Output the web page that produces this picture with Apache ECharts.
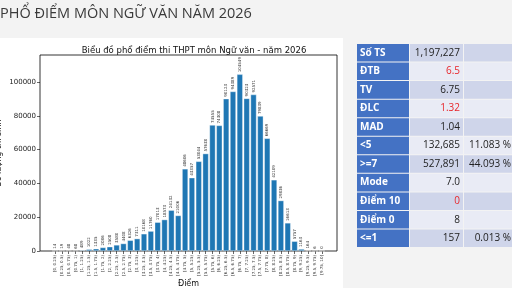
<!DOCTYPE html>
<html>
<head>
<meta charset="utf-8">
<script src="https://cdn.jsdelivr.net/npm/echarts@6/dist/echarts.min.js"></script>
<style>
  html, body { margin: 0; padding: 0; background: #f3f3f3; }
  #main { width: 512px; height: 288px; }
</style>
</head>
<body>
<div id="main"></div>
<script>
// khoảng điểm (trục x)
const scoreBins = [
  '[0, 0.25)', '[0.25, 0.5)', '[0.5, 0.75)', '[0.75, 1)',
  '[1, 1.25)', '[1.25, 1.5)', '[1.5, 1.75)', '[1.75, 2)',
  '[2, 2.25)', '[2.25, 2.5)', '[2.5, 2.75)', '[2.75, 3)',
  '[3, 3.25)', '[3.25, 3.5)', '[3.5, 3.75)', '[3.75, 4)',
  '[4, 4.25)', '[4.25, 4.5)', '[4.5, 4.75)', '[4.75, 5)',
  '[5, 5.25)', '[5.25, 5.5)', '[5.5, 5.75)', '[5.75, 6)',
  '[6, 6.25)', '[6.25, 6.5)', '[6.5, 6.75)', '[6.75, 7)',
  '[7, 7.25)', '[7.25, 7.5)', '[7.5, 7.75)', '[7.75, 8)',
  '[8, 8.25)', '[8.25, 8.5)', '[8.5, 8.75)', '[8.75, 9)',
  '[9, 9.25)', '[9.25, 9.5)', '[9.5, 9.75)', '[9.75, 10]'
];
// số thí sinh mỗi khoảng
const binCounts = [
  14, 19, 48, 68,
  489, 1022, 1335, 2086,
  2508, 3580, 4408, 6326,
  7311, 10168, 11760, 17013,
  18573, 24132, 21006, 48606,
  43357, 53044, 57638, 74555,
  74308, 90123, 94389, 104549,
  90323, 92571, 79839, 66669,
  42109, 29836, 16613, 5757,
  1163, 164, 6, 0
];
const yMax = 116000;
const yStep = 20000;

// bảng thống kê bên phải
const statNames = ['Số TS', 'ĐTB', 'TV', 'ĐLC', 'MAD', '<5', '>=7', 'Mode', 'Điểm 10', 'Điểm 0', '<=1'];
const statValues = ['1,197,227', '6.5', '6.75', '1.32', '1.04', '132,685', '527,891', '7.0', '0', '8', '157'];
const statPercents = ['', '', '', '', '', '11.083 %', '44.093 %', '', '', '', '0.013 %'];
const statRed = [false, true, false, true, false, false, false, false, true, false, false];

// vẽ bảng bằng graphic
const tableEls = [];
const tx = 357, ty = 44, rowH = 18.55;
const colW = [53, 54, 52];
statNames.forEach((name, i) => {
  const y = ty + i * rowH;
  const band = i % 2 === 0 ? '#cfd5ea' : '#e9ebf5';
  tableEls.push({ type: 'rect', shape: { x: tx, y: y, width: colW[0] - 1, height: rowH - 1 }, style: { fill: '#4472c4' } });
  tableEls.push({ type: 'rect', shape: { x: tx + colW[0], y: y, width: colW[1] - 1, height: rowH - 1 }, style: { fill: band } });
  tableEls.push({ type: 'rect', shape: { x: tx + colW[0] + colW[1], y: y, width: colW[2], height: rowH - 1 }, style: { fill: band } });
  tableEls.push({ type: 'text', x: tx + 3, y: y + rowH / 2 - 0.5,
    style: { text: name, fill: '#fff', font: 'bold 10px "Open Sans"', verticalAlign: 'middle', align: 'left' } });
  tableEls.push({ type: 'text', x: tx + colW[0] + colW[1] - 4, y: y + rowH / 2 - 0.5,
    style: { text: statValues[i], fill: statRed[i] ? '#e8262b' : '#222', font: '10px "Open Sans"', verticalAlign: 'middle', align: 'right' } });
  if (statPercents[i]) {
    tableEls.push({ type: 'text', x: 511, y: y + rowH / 2 - 0.5,
      style: { text: statPercents[i], fill: '#222', font: '10px "Open Sans"', verticalAlign: 'middle', align: 'right' } });
  }
});

const option = {
  backgroundColor: '#f3f3f3',
  animation: false,
  title: {
    text: 'Biểu đồ phổ điểm thi THPT môn Ngữ văn - năm 2026',
    left: 189,
    textAlign: 'center',
    top: 41,
    textStyle: { fontFamily: 'DejaVu Sans', fontSize: 8.5, fontWeight: 'normal', color: '#111' }
  },
  graphic: {
    elements: [
      { type: 'rect', z: -10, shape: { x: 0, y: 38, width: 343, height: 250 }, style: { fill: '#ffffff' } },
      { type: 'text', x: 0, y: 6,
        style: { text: 'PHỔ ĐIỂM MÔN NGỮ VĂN NĂM 2026', fill: '#3a3a3a', font: '14.5px "Open Sans"' } }
    ].concat(tableEls)
  },
  grid: [
    { left: 40, right: 175, top: 55, bottom: 37, show: true, borderColor: '#000', borderWidth: 0.8,
      backgroundColor: 'transparent', containLabel: false, outerBoundsMode: 'none' },
    { left: 51.6, right: 186.6, top: 55, bottom: 37, containLabel: false, outerBoundsMode: 'none' }
  ],
  xAxis: [
    { type: 'value', gridIndex: 0, show: false, min: 0, max: 1 },
    {
      type: 'category', gridIndex: 1, data: scoreBins,
      name: 'Điểm', nameLocation: 'middle', nameGap: 29, nameMoveOverlap: false,
      nameTextStyle: { fontFamily: 'DejaVu Sans', fontSize: 8, color: '#111' },
      axisLine: { show: false },
      axisTick: { show: true, alignWithLabel: true, length: 3, lineStyle: { color: '#000', width: 0.6 } },
      axisLabel: { interval: 0, rotate: 90, fontSize: 4, fontFamily: 'DejaVu Sans', color: '#333', margin: 4 }
    }
  ],
  yAxis: [
    {
      type: 'value', gridIndex: 0, min: 0, max: yMax, interval: yStep,
      name: 'Số lượng thí sinh', nameLocation: 'middle', nameGap: 37, nameMoveOverlap: false,
      nameTextStyle: { fontFamily: 'DejaVu Sans', fontSize: 8, color: '#111' },
      axisLine: { show: false },
      axisTick: { show: true, length: 3, lineStyle: { color: '#000', width: 0.6 } },
      splitLine: { show: false },
      axisLabel: {
        fontSize: 7, fontFamily: 'DejaVu Sans', color: '#222', margin: 4,
        showMaxLabel: false,
        formatter: (v) => String(v)
      }
    },
    { type: 'value', gridIndex: 1, min: 0, max: yMax, show: false }
  ],
  series: [
    {
      type: 'bar',
      xAxisIndex: 1, yAxisIndex: 1,
      data: binCounts,
      barCategoryGap: '14%',
      itemStyle: { color: '#1f77b4', borderColor: 'rgba(255,255,255,0.7)', borderWidth: 0.5 },
      label: {
        show: true, position: 'top', rotate: 90, align: 'left', verticalAlign: 'middle',
        distance: 2, fontSize: 4, fontFamily: 'DejaVu Sans', color: '#333'
      }
    }
  ]
};

const myChart = echarts.init(document.getElementById('main'));
myChart.setOption(option);
</script>
</body>
</html>
